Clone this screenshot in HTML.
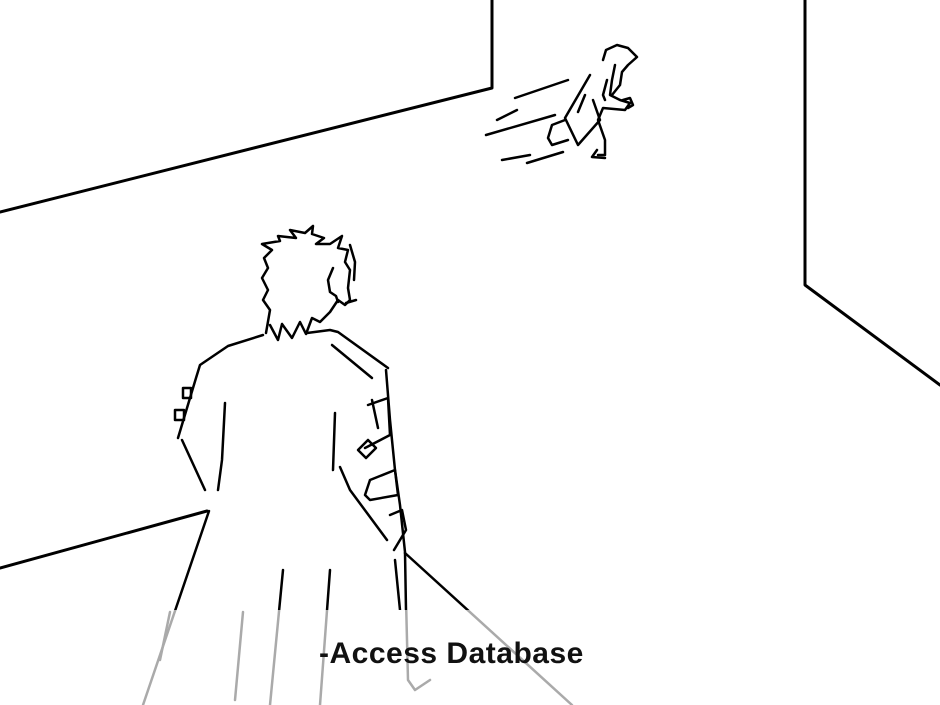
<!DOCTYPE html>
<html><head><style>
html,body{margin:0;padding:0;background:#fff;width:940px;height:705px;overflow:hidden}
svg{position:absolute;left:0;top:0}
.t{position:absolute;left:319px;top:637px;font:bold 30px "Liberation Sans",sans-serif;color:#111;letter-spacing:0.5px}
</style></head><body>
<svg width="940" height="705" viewBox="0 0 940 705">
<defs><clipPath id="top"><rect x="0" y="0" width="940" height="610"/></clipPath>
<clipPath id="band"><rect x="0" y="610" width="940" height="95"/></clipPath></defs>
<g fill="none" stroke="#000" stroke-width="3" stroke-linecap="round" stroke-linejoin="round">
<polyline points="492,0 492,88 0,212"/>
<polyline points="805,0 805,285 940,385"/>
<line x1="0" y1="568" x2="207" y2="511"/>
</g>
<g fill="none" stroke-width="2.5" stroke-linecap="round" stroke-linejoin="round">
<g clip-path="url(#top)" stroke="#000">
<line x1="405" y1="553" x2="572" y2="705"/>
<polyline points="266,333 270,310 263,300 268,290 262,278 268,268 264,258 272,250 262,244 280,241 278,236 296,238 290,230 305,233 313,226 312,234 324,238 316,244 330,244 342,236 338,248 348,250 345,262 350,270 348,288 350,300 345,305 338,300 330,312 320,322 312,318 306,334 300,322 292,338 282,324 278,340 270,325"/>
<polyline points="333,268 328,280 330,292 336,296 338,302"/>
<polyline points="350,245 355,262 354,280"/>
<line x1="346" y1="303" x2="356" y2="300"/>
<polyline points="263,335 228,346 200,365 196,378 178,438"/>
<polyline points="182,440 205,490"/>
<line x1="209" y1="511" x2="143" y2="705"/>
<polyline points="225,403 222,460 218,490"/>
<polyline points="307,333 330,330 338,332 388,368"/>
<polyline points="332,345 372,378"/>
<polyline points="386,370 390,420 395,470 400,505 405,552 406,610"/>
<line x1="335" y1="413" x2="333" y2="470"/>
<polyline points="340,467 350,490 387,540"/>
<line x1="283" y1="570" x2="270" y2="705"/>
<line x1="330" y1="570" x2="320" y2="705"/>
<line x1="395" y1="560" x2="400" y2="610"/>
<rect x="183" y="388" width="8" height="10"/><rect x="175" y="410" width="9" height="10"/>
<polyline points="368,405 388,398 390,435 365,448"/>
<polyline points="372,400 378,428"/>
<polyline points="358,450 368,440 376,448 366,458 358,450"/>
<polyline points="370,480 395,470 398,495 370,500 365,495 370,480"/>
<polyline points="390,515 402,510 406,530 394,550"/>
<polyline points="603,60 606,50 617,45 628,48 637,57 628,65 622,72 620,85 612,95"/>
<polyline points="615,65 612,80 610,95 620,100 630,103 625,110 603,108 598,120 605,140 605,155 598,155"/>
<polyline points="607,80 603,95 605,100"/>
<polyline points="590,75 565,118 578,145 600,120 593,100"/>
<polyline points="565,120 552,125 548,138 552,145 568,140"/>
<line x1="578" y1="112" x2="585" y2="95"/>
<polyline points="623,100 630,98 633,105 628,108"/>
<polyline points="597,150 592,157 605,158"/>
<line x1="515" y1="98" x2="568" y2="80"/>
<line x1="497" y1="120" x2="517" y2="110"/>
<line x1="486" y1="135" x2="555" y2="115"/>
<line x1="502" y1="160" x2="530" y2="155"/>
<line x1="527" y1="163" x2="563" y2="152"/>
</g>
<g clip-path="url(#band)" stroke="#aaa">
<line x1="405" y1="553" x2="572" y2="705"/>
<line x1="209" y1="511" x2="143" y2="705"/>
<line x1="283" y1="570" x2="270" y2="705"/>
<line x1="330" y1="570" x2="320" y2="705"/>
<polyline points="406,600 408,680 415,690 430,680"/>
<line x1="243" y1="612" x2="235" y2="700"/>
<polyline points="170,612 160,660"/>
</g>
</g>
</svg>
<div class="t">-Access Database</div>
</body></html>
